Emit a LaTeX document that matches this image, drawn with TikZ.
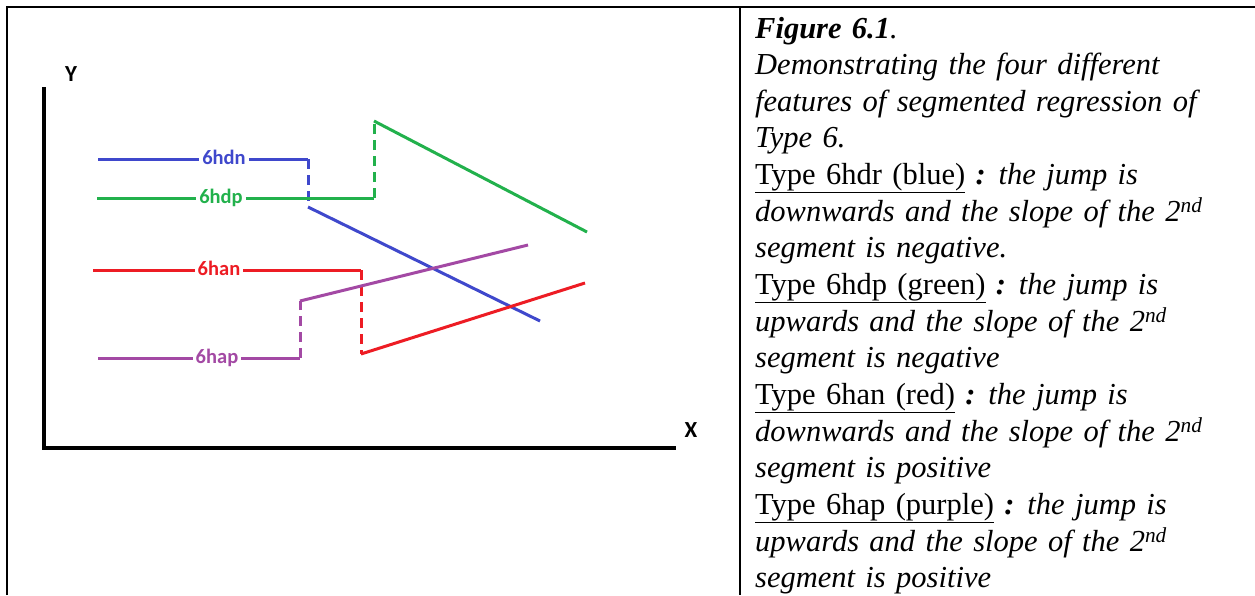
\documentclass[tikz,border=0pt]{standalone}
\usepackage{fontspec}
\setmainfont{Liberation Serif}
\newfontfamily\lblfont{Carlito}
\definecolor{pblue}{RGB}{63,72,204}
\definecolor{pgreen}{RGB}{34,177,76}
\definecolor{pred}{RGB}{237,28,36}
\definecolor{ppurple}{RGB}{163,73,164}
\newcommand{\bcolon}{\textbf{\textit{:}}}
\newcommand{\captfont}{\fontsize{30.5}{34}\selectfont\spaceskip=0.34em plus 0.1em\relax}
\begin{document}
\begin{tikzpicture}[x=1pt,y=-1pt,
  seg/.style={line width=3pt},
  jump/.style={line width=3pt, dash pattern=on 10pt off 6pt},
  lbl/.style={font=\lblfont\bfseries\fontsize{20.5}{20.5}\selectfont, inner xsep=3pt, inner ysep=0pt, anchor=base},
  axlbl/.style={font=\lblfont\bfseries\fontsize{23}{23}\selectfont, inner sep=0pt},
  axisline/.style={line width=4pt, black},
  txt/.style={anchor=base west, inner sep=0pt, font=\captfont},
  rulel/.style={line width=2pt}]
\useasboundingbox (0,0) rectangle (1255,595);
% table borders
\coordinate (tl) at (7,7);
\coordinate (tr) at (1255,7);
\coordinate (bl) at (7,595);
\coordinate (dt) at (740,7);
\coordinate (db) at (740,595);
\draw[rulel] (bl) -- (tl) -- (tr);
\draw[rulel] (dt) -- (db);
% axes
\coordinate (ytop) at (44,87);
\coordinate (origin) at (44,448);
\coordinate (xend) at (676,448);
\draw[axisline] (ytop) -- (origin) -- (xend);
\node[axlbl] (ylab) at (71,74) {Y};
\node[axlbl] (xlab) at (691,430) {X};
% blue 6hdn
\coordinate (b0) at (98,159);
\coordinate (b1) at (308,159);
\coordinate (b2) at (308,207);
\coordinate (b3) at (540,321);
\node[lbl, text=pblue] (lb) at (224,164.5) {6hdn};
\draw[seg,pblue] (b0) -- (b0 -| lb.west);
\draw[seg,pblue] (b1 -| lb.east) -- (b1);
\draw[jump,pblue] (b1) -- (b2);
\draw[seg,pblue] (b2) -- (b3);
% green 6hdp
\coordinate (g0) at (97,198);
\coordinate (g1) at (374,198);
\coordinate (g2) at (374,121);
\coordinate (g3) at (587,232);
\node[lbl, text=pgreen] (lg) at (221,203.5) {6hdp};
\draw[seg,pgreen] (g0) -- (g0 -| lg.west);
\draw[seg,pgreen] (g1 -| lg.east) -- (g1);
\draw[jump,pgreen] (g1) -- (g2);
\draw[seg,pgreen] (g2) -- (g3);
% red 6han
\coordinate (r0) at (93,270);
\coordinate (r1) at (361,270);
\coordinate (r2) at (361,354);
\coordinate (r3) at (585,283);
\node[lbl, text=pred] (lr) at (219,275.5) {6han};
\draw[seg,pred] (r0) -- (r0 -| lr.west);
\draw[seg,pred] (r1 -| lr.east) -- (r1);
\draw[jump,pred] (r1) -- (r2);
\draw[seg,pred] (r2) -- (r3);
% purple 6hap
\coordinate (p0) at (98,358);
\coordinate (p1) at (300,358);
\coordinate (p2) at (300,301);
\coordinate (p3) at (528,245);
\node[lbl, text=ppurple] (lp) at (217,363.5) {6hap};
\draw[seg,ppurple] (p0) -- (p0 -| lp.west);
\draw[seg,ppurple] (p1 -| lp.east) -- (p1);
\draw[jump,ppurple] (p1) -- (p2);
\draw[seg,ppurple] (p2) -- (p3);
% caption text
\node[txt] (t1) at (755,38.0) {\textbf{\textit{Figure 6.1}}\textit{.}};
\node[txt] (t2) at (755,74.65) {\textit{Demonstrating the four different}};
\node[txt] (t3) at (755,111.3) {\textit{features of segmented regression of}};
\node[txt] (t4) at (755,147.95) {\textit{Type 6.}};
\node[txt] (t5) at (755,184.6) {\underline{Type 6hdr (blue)} \bcolon{} \textit{the jump is}};
\node[txt] (t6) at (755,221.25) {\textit{downwards and the slope of the 2\textsuperscript{nd}}};
\node[txt] (t7) at (755,257.9) {\textit{segment is negative.}};
\node[txt] (t8) at (755,294.55) {\underline{Type 6hdp (green)} \bcolon{} \textit{the jump is}};
\node[txt] (t9) at (755,331.2) {\textit{upwards and the slope of the 2\textsuperscript{nd}}};
\node[txt] (t10) at (755,367.85) {\textit{segment is negative}};
\node[txt] (t11) at (755,404.5) {\underline{Type 6han (red)} \bcolon{} \textit{the jump is}};
\node[txt] (t12) at (755,441.15) {\textit{downwards and the slope of the 2\textsuperscript{nd}}};
\node[txt] (t13) at (755,477.8) {\textit{segment is positive}};
\node[txt] (t14) at (755,514.45) {\underline{Type 6hap (purple)} \bcolon{} \textit{the jump is}};
\node[txt] (t15) at (755,551.1) {\textit{upwards and the slope of the 2\textsuperscript{nd}}};
\node[txt] (t16) at (755,587.75) {\textit{segment is positive}};
\end{tikzpicture}
\end{document}
